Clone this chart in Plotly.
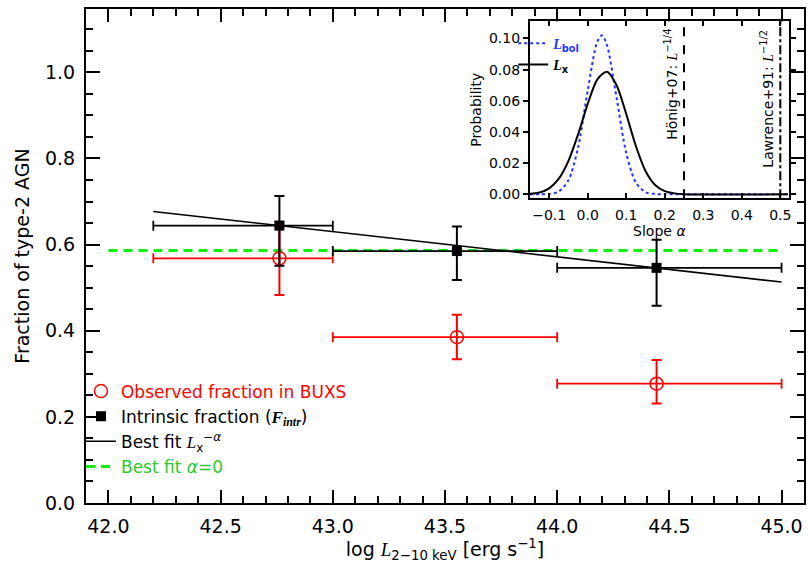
import plotly.graph_objects as go

# ---------------- data ----------------
bin_lo = [42.2, 43.0, 44.0]
bin_hi = [43.0, 44.0, 45.0]
lum_center = [42.762, 43.553, 44.443]

obs_frac = [0.568, 0.385, 0.277]
obs_err_up = [0.085, 0.052, 0.055]
obs_err_dn = [0.085, 0.051, 0.046]

intr_frac = [0.644, 0.585, 0.546]
intr_err_up = [0.069, 0.057, 0.065]
intr_err_dn = [0.093, 0.067, 0.088]

fit_x = [42.2, 45.0]
fit_y = [0.677, 0.513]

flat_x = [42.0, 45.0]
flat_y = [0.586, 0.586]

alpha_lx = [-0.15, -0.125, -0.1, -0.075, -0.05, -0.025, 0.0, 0.025, 0.05, 0.075,
            0.1, 0.125, 0.15, 0.175, 0.2, 0.225, 0.25, 0.52]
prob_lx = [0.0003, 0.0012, 0.0038, 0.0100, 0.0215, 0.0385, 0.0580, 0.0738, 0.0787, 0.0700,
           0.0515, 0.0310, 0.0150, 0.0060, 0.0020, 0.0006, 0.0001, 0.0]

alpha_lbol = [-0.15, -0.125, -0.1, -0.075, -0.05, -0.025, 0.0, 0.025, 0.0375, 0.05, 0.075,
              0.1, 0.125, 0.15, 0.175, 0.2, 0.25, 0.52]
prob_lbol = [0.0, 0.0, 0.0002, 0.0018, 0.0090, 0.0300, 0.0666, 0.0980, 0.1020, 0.0957, 0.0619,
             0.0265, 0.0075, 0.0014, 0.0002, 0.0, 0.0, 0.0]

ref_slopes = [0.25, 0.5]
ref_labels = ["Hönig+07: <i><span style='font-family:Liberation Serif'>L</span></i><sup>−1/4</sup>",
              "Lawrence+91: <i><span style='font-family:Liberation Serif'>L</span></i><sup>−1/2</sup>"]
ref_dash = ["dash", "dashdot"]

FONT = "DejaVu Sans"
RED = "#ff0000"
GREEN_LINE = "#11ee11"
GREEN_TEXT = "#2ec82e"
BLUE = "#2233ff"

xerr_plus = [h - c for h, c in zip(bin_hi, lum_center)]
xerr_minus = [c - l for l, c in zip(bin_lo, lum_center)]

fig = go.Figure()

# green flat fit
fig.add_trace(go.Scatter(
    x=flat_x, y=flat_y, mode="lines",
    line=dict(color=GREEN_LINE, width=3, dash="9px,6px"),
    name=f"<span style='color:{GREEN_TEXT}'>Best fit <i>α</i>=0</span>",
    legendrank=4, xaxis="x", yaxis="y"))

# observed
fig.add_trace(go.Scatter(
    x=lum_center, y=obs_frac, mode="markers",
    marker=dict(symbol="circle-open", size=13, color=RED, line=dict(width=1.5, color=RED)),
    error_y=dict(type="data", symmetric=False, array=obs_err_up, arrayminus=obs_err_dn,
                 color=RED, thickness=2, width=5),
    error_x=dict(type="data", symmetric=False, array=xerr_plus, arrayminus=xerr_minus,
                 color=RED, thickness=1.8, width=5),
    name=f"<span style='color:{RED}'>Observed fraction in BUXS</span>",
    legendrank=1))

# best fit line
fig.add_trace(go.Scatter(
    x=fit_x, y=fit_y, mode="lines", line=dict(color="black", width=1.6),
    name="Best fit <i><span style='font-family:Liberation Serif'>L</span></i><sub>x</sub><sup>−<i>α</i></sup>",
    legendrank=3))

# intrinsic
fig.add_trace(go.Scatter(
    x=lum_center, y=intr_frac, mode="markers",
    marker=dict(symbol="square", size=10, color="black"),
    error_y=dict(type="data", symmetric=False, array=intr_err_up, arrayminus=intr_err_dn,
                 color="black", thickness=2, width=5),
    error_x=dict(type="data", symmetric=False, array=xerr_plus, arrayminus=xerr_minus,
                 color="black", thickness=1.8, width=5),
    name="Intrinsic fraction (<b><i><span style='font-family:Liberation Serif'>F</span></i><sub><i><span style='font-family:Liberation Serif'>intr</span></i></sub></b>)",
    legendrank=2))

# inset curves
fig.add_trace(go.Scatter(
    x=alpha_lbol, y=prob_lbol, mode="lines", xaxis="x2", yaxis="y2",
    line=dict(color=BLUE, width=2, dash="dot", shape="spline", smoothing=0.8),
    name=f"<span style='color:{BLUE}'><b><i><span style='font-family:Liberation Serif'>L</span></i><sub>bol</sub></b></span>",
    legend="legend2", legendrank=1))
fig.add_trace(go.Scatter(
    x=alpha_lx, y=prob_lx, mode="lines", xaxis="x2", yaxis="y2",
    line=dict(color="black", width=2, shape="spline", smoothing=0.8),
    name="<b><i><span style='font-family:Liberation Serif'>L</span></i><sub>x</sub></b>",
    legend="legend2", legendrank=2))

for s, lab, d in zip(ref_slopes, ref_labels, ref_dash):
    fig.add_shape(type="line", xref="x2", yref="y2 domain", x0=s, x1=s, y0=0, y1=1,
                  line=dict(color="black", width=2, dash=d))
    fig.add_annotation(xref="x2", yref="y2 domain", x=s, y=1, xanchor="right", yanchor="top",
                       xshift=-2, yshift=-6, textangle=-90, showarrow=False, text=lab,
                       font=dict(family=FONT, size=14, color="black"))

axis_common = dict(showline=True, linecolor="black", linewidth=2, mirror="allticks",
                   ticks="inside", tickcolor="black", tickwidth=2, showgrid=False,
                   zeroline=False)

fig.update_layout(
    width=808, height=563,
    margin=dict(l=86, r=1, t=9, b=60),
    paper_bgcolor="white", plot_bgcolor="white",
    font=dict(family=FONT, size=19, color="black"),
    xaxis=dict(range=[41.9, 45.1], dtick=0.5, tick0=42.0, tickformat=".1f", ticklen=13,
               minor=dict(dtick=0.1, ticks="inside", ticklen=7, tickwidth=1.5, tickcolor="black"),
               ticklabelstandoff=5,
               title=dict(text="log <i><span style='font-family:Liberation Serif'>L</span></i><sub>2−10 keV</sub> [erg s<sup>−1</sup>]",
                          font=dict(size=19), standoff=0),
               domain=[0, 1], anchor="y", **axis_common),
    yaxis=dict(range=[0, 1.147], dtick=0.2, tick0=0, tickformat=".1f", ticklen=14,
               minor=dict(dtick=0.05, ticks="inside", ticklen=7, tickwidth=1.5, tickcolor="black"),
               ticklabelstandoff=5,
               title=dict(text="Fraction of type-2 AGN", font=dict(size=19), standoff=10),
               domain=[0, 1], anchor="x", **axis_common),
    xaxis2=dict(domain=[0.6183, 0.9788], anchor="y2", range=[-0.15, 0.522], dtick=0.1,
                tick0=0, tickformat=".1f", ticks="inside", ticklen=5, tickwidth=1.5,
                tickcolor="black", showline=True, linecolor="black", linewidth=2,
                mirror="ticks", showgrid=False, zeroline=False, ticklabelstandoff=3,
                tickfont=dict(size=14),
                title=dict(text="Slope <i>α</i>", font=dict(size=14), standoff=3)),
    yaxis2=dict(domain=[0.617, 0.975], anchor="x2", range=[-0.0025, 0.111], dtick=0.02,
                tick0=0, tickformat=".2f", ticks="outside", ticklen=5, tickwidth=1.5,
                tickcolor="black", showline=True, linecolor="black", linewidth=2,
                mirror="ticks", showgrid=False, zeroline=False,
                tickfont=dict(size=14),
                title=dict(text="Probability", font=dict(size=14), standoff=4)),
    showlegend=True,
    legend=dict(x=-0.007, y=0.262, xanchor="left", yanchor="top", bgcolor="rgba(0,0,0,0)",
                font=dict(size=17), itemwidth=30, tracegroupgap=0, traceorder="normal"),
    legend2=dict(x=0.595, y=0.962, xanchor="left", yanchor="top", bgcolor="rgba(0,0,0,0)",
                 font=dict(size=14), itemwidth=30, tracegroupgap=0),
)

fig.write_html("out.html", config={"displayModeBar": False},
               post_script="document.body.style.margin='0';document.body.style.padding='0';")
